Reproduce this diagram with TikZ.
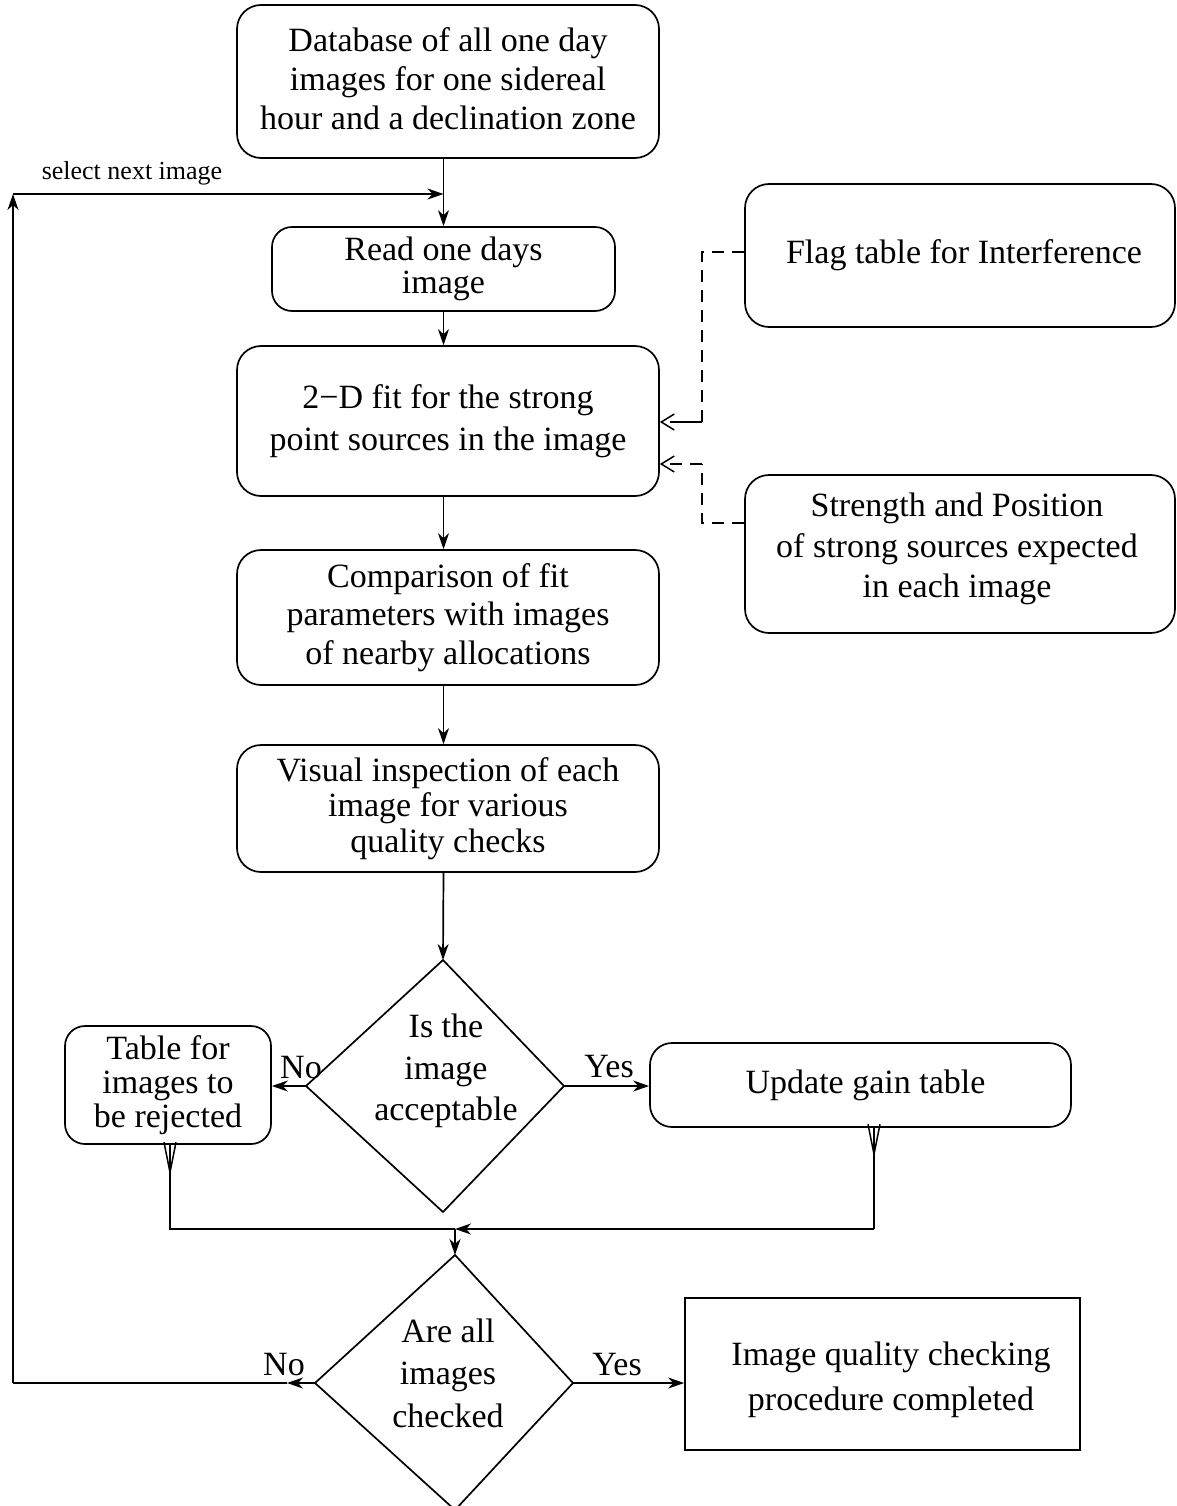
\documentclass[tikz,border=0pt]{standalone}
\usepackage{fontspec}
\setmainfont{Liberation Serif}
\usetikzlibrary{arrows.meta}
\newcommand{\fs}[1]{\fontsize{34}{#1}\selectfont}
\tikzset{
  box/.style={draw, line width=1.7pt, rounded corners=24pt, align=center, inner sep=0pt},
  sqbox/.style={draw, line width=1.7pt, align=center, inner sep=0pt},
  conn/.style={line width=1.7pt},
  arr/.style={conn, -{Stealth[length=16pt, width=11pt, inset=5pt]}},
  varr/.style={conn, -{Straight Barb[length=30pt, width=12pt, line width=1.5pt]}},
  darr/.style={conn, dash pattern=on 12pt off 8pt, -{Straight Barb[length=13pt, width=16pt, line width=1.5pt]}},
  dline/.style={conn, dash pattern=on 12pt off 8pt},
  lbl/.style={font=\fs{36}, inner sep=0pt},
  diam/.style={line width=1.7pt}
}
\begin{document}
\begin{tikzpicture}[x=1pt, y=-1pt]
\useasboundingbox (0,0) rectangle (1176,1506);
% boxes
\node[box, minimum width=422pt, minimum height=153pt] (b1) at (448,81.5) {};
\node[lbl, font=\fs{39}, align=center] (b1txt) at (448,78.5)
  {Database of all one day\\images for one sidereal\\hour and a declination zone};
\node[box, rounded corners=20pt, minimum width=343pt, minimum height=84pt, font=\fs{33}] (b2) at (443.5,269)
  {Read one days\\image};
\node[box, minimum width=422pt, minimum height=150pt, font=\fs{42}] (b3) at (448,421)
  {2−D fit for the strong\\point sources in the image};
\node[box, minimum width=422pt, minimum height=135pt, font=\fs{38.5}] (b4) at (448,617.5)
  {Comparison of fit\\parameters with images\\of nearby allocations};
\node[box, minimum width=422pt, minimum height=127pt, font=\fs{35.5}] (b5) at (448,808.5)
  {Visual inspection of each\\image for various\\quality checks};
\node[box, minimum width=430pt, minimum height=143pt, font=\fs{39}] (flag) at (960,255.5)
  {\hspace*{8pt}Flag table for Interference};
\node[box, minimum width=430pt, minimum height=158pt] (str) at (960,554) {};
\node[lbl, font=\fs{40.5}, align=center] (strtxt) at (957,549)
  {Strength and Position\\of strong sources expected\\in each image};
\node[box, rounded corners=20pt, minimum width=206pt, minimum height=118pt, font=\fs{34}] (rej) at (168,1085)
  {Table for\\images to\\be rejected};
\node[box, rounded corners=22pt, minimum width=421pt, minimum height=84pt, font=\fs{39}] (upd) at (860.5,1085)
  {\hspace*{10pt}Update gain table};
\node[sqbox, minimum width=395pt, minimum height=152pt] (fin) at (882.5,1374) {};
\node[lbl, font=\fs{45}, align=center] (fintxt) at (891,1380)
  {Image quality checking\\procedure completed};
% diamond 1
\coordinate (d1t) at (443,960);
\coordinate (d1l) at (306,1086);
\coordinate (d1r) at (564,1086);
\coordinate (d1b) at (443,1212);
\draw[diam] (d1t) -- (d1r) -- (d1b) -- (d1l) -- cycle;
\node[lbl, font=\fs{41.5}, align=center] (d1txt) at (446,1071) {Is the\\image\\acceptable};
% diamond 2
\coordinate (d2t) at (455,1255);
\coordinate (d2l) at (315,1383);
\coordinate (d2r) at (573,1383);
\coordinate (d2b) at (455,1510);
\draw[diam] (d2t) -- (d2r) -- (d2b) -- (d2l) -- cycle;
\node[lbl, font=\fs{42.5}, align=center] (d2txt) at (448,1373) {Are all\\images\\checked};
% main chain
\draw[arr] (b2.north |- b1.south) -- (b2.north);
\draw[arr] (b2.south) -- (b2.south |- b3.north);
\draw[arr] (b2.south |- b3.south) -- (b2.south |- b4.north);
\draw[arr] (b2.south |- b4.south) -- (b2.south |- b5.north);
\draw[arr] (b2.south |- b5.south) -- (d1t);
% loop back
\coordinate (sn) at (13,194);
\coordinate (lb) at (13,1383);
\draw[arr] (sn) -- (sn -| b2.north);
\node[font=\fontsize{26}{30}\selectfont, inner sep=0pt] (snl) at (132,173) {select next image};
% decision 1 branches
\draw[arr] (d1l) -- (d1l -| rej.east);
\draw[arr] (d1r) -- (d1r -| upd.west);
\node[lbl] (no1) at (301,1068) {No};
\node[lbl] (yes1) at (609,1067) {Yes};
% merge
\coordinate (rs) at (170,1144);
\coordinate (us) at (874,1127);
\coordinate (rj) at (170,1229);
\coordinate (uj) at (874,1229);
\coordinate (jn) at (455,1229);
\draw[varr] (rs) -- ++(0,32);
\draw[conn] (rs) -- (rj) -- (jn);
\draw[varr] (us) -- ++(0,31);
\draw[conn] (us) -- (uj);
\draw[arr] (uj) -- (jn);
\draw[arr] (jn) -- (d2t);
% decision 2 branches
\coordinate (na) at (287,1383);
\draw[arr] (d2l) -- (na);
\draw[conn] (na) -- (lb);
\draw[arr] (lb) -- (sn);
\draw[arr] (d2r) -- (d2r -| fin.west);
\node[lbl] (no2) at (284,1365) {No};
\node[lbl] (yes2) at (617,1365) {Yes};
% dashed inputs
\coordinate (fa) at (702,252);
\coordinate (fb) at (702,422);
\coordinate (sa) at (702,523);
\coordinate (sb) at (702,464);
\draw[dline] (flag.west |- fa) -- (fa) -- (fb) -- ++(-20,0);
\draw[darr] (fb) -- (fb -| b3.east);
\draw[dline] (str.west |- sa) -- (sa) -- (sb);
\draw[darr] (sb) -- (sb -| b3.east);
\end{tikzpicture}
\end{document}
